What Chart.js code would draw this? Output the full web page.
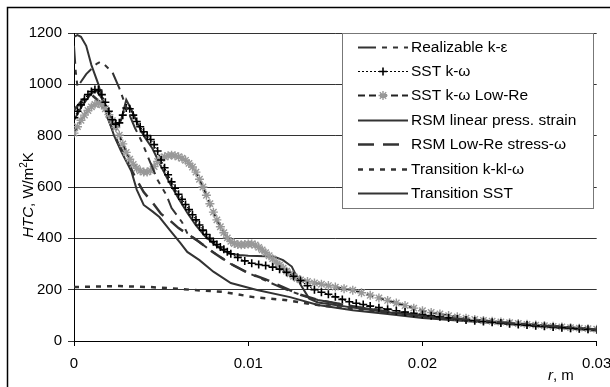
<!DOCTYPE html>
<html>
<head>
<meta charset="utf-8">
<script src="https://cdn.jsdelivr.net/npm/chart.js@4/dist/chart.umd.min.js"></script>
<style>
body{margin:0;background:#fff;overflow:hidden}
canvas{display:block}
</style>
</head>
<body>
<canvas id="htc" width="610" height="387"></canvas>
<script>
// r in m, HTC in W/m2K
var rReal   = [0,0.0001,0.0002,0.0004,0.0007,0.001,0.0013,0.0015,0.0017,0.002,0.0022,0.0026,0.003,0.0035,0.0039,0.0044,0.0048,0.0053,0.0056,0.0062,0.0065,0.007,0.0078,0.009,0.01,0.011,0.012,0.013,0.014,0.016,0.018,0.02,0.025,0.03];
var htcReal = [1150,1050,990,1010,1040,1060,1080,1087,1080,1060,1048,985,910,830,775,692,627,569,518,463,420,395,355,300,265,235,205,180,160,135,115,98,70,45];

var rSst   = [0,0.0002,0.0004,0.0006,0.0008,0.001,0.0012,0.0014,0.0016,0.0018,0.002,0.0022,0.0024,0.0026,0.0028,0.003,0.0032,0.0034,0.0036,0.0038,0.004,0.0042,0.0044,0.0046,0.0048,0.005,0.0052,0.0054,0.0056,0.0058,0.006,0.0062,0.0064,0.0066,0.0068,0.007,0.0072,0.0074,0.0076,0.0078,0.008,0.0082,0.0084,0.0086,0.0088,0.009,0.0094,0.0098,0.0102,0.0106,0.011,0.0114,0.0118,0.0122,0.0126,0.013,0.0134,0.0138,0.0142,0.0146,0.015,0.0154,0.0158,0.0162,0.0166,0.017,0.0175,0.018,0.0185,0.019,0.0195,0.02,0.0205,0.021,0.0215,0.022,0.0225,0.023,0.0235,0.024,0.0245,0.025,0.0255,0.026,0.0265,0.027,0.0275,0.028,0.0285,0.029,0.0295,0.03];
var htcSst = [870,895,920,942,960,972,980,978,960,930,895,862,845,850,880,908,905,880,855,835,815,800,785,765,740,705,675,648,620,595,572,552,532,512,492,472,452,432,415,400,387,376,366,357,348,340,326,312,303,298,294,288,280,268,252,236,215,200,190,182,172,162,153,147,142,136,130,124,118,113,108,103,98,94,90,86,82,79,76,73,70,67,64,62,59,57,55,52,50,48,46,44];

var rLowRe   = [0,0.0002,0.0004,0.0006,0.0008,0.001,0.0012,0.0014,0.0016,0.0018,0.002,0.0022,0.0024,0.0026,0.0028,0.003,0.0032,0.0034,0.0036,0.0038,0.004,0.0042,0.0044,0.0046,0.0048,0.005,0.0052,0.0054,0.0056,0.0058,0.006,0.0062,0.0064,0.0066,0.0068,0.007,0.0072,0.0074,0.0076,0.0078,0.008,0.0082,0.0084,0.0086,0.0088,0.009,0.0092,0.0094,0.0096,0.0098,0.01,0.0102,0.0104,0.0106,0.0108,0.011,0.0112,0.0114,0.0116,0.0118,0.012,0.0122,0.0124,0.0126,0.0128,0.013,0.0134,0.0138,0.0142,0.0146,0.015,0.0155,0.016,0.0165,0.017,0.0175,0.018,0.0185,0.019,0.0195,0.02,0.0205,0.021,0.0215,0.022,0.0225,0.023,0.0235,0.024,0.0245,0.025,0.0255,0.026,0.0265,0.027,0.0275,0.028,0.0285,0.029,0.0295,0.03];
var htcLowRe = [810,835,860,880,898,912,922,926,920,905,882,858,832,802,768,735,708,688,673,663,658,658,664,680,700,712,718,722,724,722,718,712,704,692,678,658,630,600,568,535,502,472,445,422,402,388,380,376,375,376,378,378,374,365,355,344,332,320,308,296,284,272,262,252,244,238,232,226,221,216,210,204,198,188,178,168,158,148,138,128,118,111,105,99,94,89,84,80,77,74,71,68,65,62,60,57,55,52,50,48,46];

var rRsmLin   = [0,0.0005,0.001,0.0013,0.0016,0.002,0.0024,0.0027,0.003,0.0033,0.0037,0.004,0.0045,0.005,0.0055,0.006,0.0065,0.007,0.0075,0.008,0.0085,0.009,0.0095,0.01,0.011,0.0115,0.012,0.0125,0.013,0.0135,0.014,0.015,0.016,0.018,0.02,0.022,0.025,0.03];
var htcRsmLin = [860,920,965,975,945,880,830,860,940,900,840,800,750,680,615,555,500,450,410,380,355,340,335,332,330,328,315,290,220,165,150,140,130,112,97,85,68,45];

var rRsmLow   = [0,0.0005,0.001,0.0015,0.002,0.0025,0.003,0.0035,0.004,0.0045,0.005,0.0055,0.006,0.007,0.008,0.009,0.01,0.011,0.012,0.013,0.014,0.016,0.018,0.02,0.025,0.03];
var htcRsmLow = [900,940,960,930,860,775,710,640,580,540,495,470,440,395,345,300,265,240,210,180,160,135,115,98,70,45];

var rKkl   = [0,0.001,0.0026,0.0044,0.0061,0.0068,0.0086,0.0103,0.0121,0.014,0.016,0.018,0.02,0.025,0.03];
var htcKkl = [210,212,214,210,203,199,191,171,160,140,125,110,95,68,45];

var rTrSst   = [0,0.0002,0.0004,0.0007,0.001,0.0014,0.0017,0.002,0.0023,0.0027,0.003,0.0033,0.0036,0.004,0.0045,0.0049,0.0055,0.0061,0.0065,0.0072,0.008,0.009,0.0105,0.0124,0.014,0.016,0.018,0.02,0.025,0.03];
var htcTrSst = [1185,1192,1185,1150,1075,1000,920,860,800,740,700,660,590,530,505,483,432,382,347,315,270,226,199,171,140,120,105,90,65,40];

var yTicks = [0,200,400,600,800,1000,1200];

function pts(r, h){ return r.map(function(x,i){ return {x:x, y:h[i]}; }); }

var FONT = '"Liberation Sans", Arial, sans-serif';

var datasets = [
  {label:'Realizable k-\u03b5', data:pts(rReal,htcReal), borderColor:'#333', borderWidth:2, borderDash:[18,6,5,6,5,6], pointRadius:0},
  {label:'SST k-\u03c9', data:pts(rSst,htcSst), borderColor:'#000', borderWidth:1, borderDash:[2,2], pointStyle:'cross', pointRadius:4, pointBorderWidth:1.6, pointBorderColor:'#000', pointBackgroundColor:'#000'},
  {label:'SST k-\u03c9 Low-Re', data:pts(rLowRe,htcLowRe), borderColor:'#222', borderWidth:2, borderDash:[7,4], pointStyle:'star', pointRadius:4.5, pointBorderWidth:1.4, pointBorderColor:'#999', pointBackgroundColor:'#999'},
  {label:'RSM linear press. strain', data:pts(rRsmLin,htcRsmLin), borderColor:'#333', borderWidth:2, pointRadius:0},
  {label:'RSM Low-Re stress-\u03c9', data:pts(rRsmLow,htcRsmLow), borderColor:'#333', borderWidth:2.5, borderDash:[16,9], pointRadius:0},
  {label:'Transition k-kl-\u03c9', data:pts(rKkl,htcKkl), borderColor:'#333', borderWidth:2.5, borderDash:[5,6], pointRadius:0},
  {label:'Transition SST', data:pts(rTrSst,htcTrSst), borderColor:'#333', borderWidth:2, pointRadius:0}
];

var frame = {
  id:'frame',
  beforeDraw:function(chart){
    var c = chart.ctx;
    c.save();
    c.fillStyle = '#fff';
    c.fillRect(0,0,chart.width,chart.height);
    c.strokeStyle = '#000';
    c.lineWidth = 1.5;
    c.beginPath();
    c.moveTo(7.5,chart.height); c.lineTo(7.5,7.5); c.lineTo(chart.width,7.5);
    c.stroke();
    c.restore();
  },
  afterDraw:function(chart){
    var c = chart.ctx;
    c.save();
    // legend box
    c.fillStyle = '#fff';
    c.fillRect(342,33,251,175);
    c.strokeStyle = '#777';
    c.lineWidth = 1;
    c.strokeRect(342.5,33.5,251,175);
    chart.data.datasets.forEach(function(ds,i){
      var y = Math.round(46.5 + 24.4*i) + 0.5;
      c.save();
      c.setLineDash(ds.borderDash || []);
      c.strokeStyle = ds.borderColor;
      c.lineWidth = ds.borderWidth;
      c.beginPath(); c.moveTo(358,y); c.lineTo(408,y); c.stroke();
      c.restore();
      if (ds.pointRadius > 0) {
        c.strokeStyle = ds.pointBorderColor;
        c.fillStyle = ds.pointBackgroundColor;
        c.lineWidth = ds.pointBorderWidth;
        Chart.helpers.drawPoint(c, {pointStyle:ds.pointStyle, radius:ds.pointRadius, borderWidth:ds.pointBorderWidth, rotation:0}, 383, y);
      }
      c.fillStyle = '#000';
      c.font = '15.5px ' + FONT;
      c.textBaseline = 'middle';
      c.textAlign = 'left';
      c.fillText(ds.label, 411, y);
    });
    // y title
    c.fillStyle = '#000';
    c.textBaseline = 'alphabetic';
    c.textAlign = 'left';
    var parts = [
      {t:'HTC', f:'italic 15px ' + FONT, dy:0},
      {t:', W/m', f:'15px ' + FONT, dy:0},
      {t:'2', f:'10px ' + FONT, dy:-6},
      {t:'K', f:'15px ' + FONT, dy:0}
    ];
    var total = 0;
    parts.forEach(function(p){ c.font = p.f; p.w = c.measureText(p.t).width; total += p.w; });
    c.save();
    c.translate(33,195);
    c.rotate(-Math.PI/2);
    var u = -total/2;
    parts.forEach(function(p){ c.font = p.f; c.fillText(p.t, u, p.dy); u += p.w; });
    c.restore();
    // x title
    c.font = 'italic 15px ' + FONT;
    c.fillText('r', 548, 380);
    var w = c.measureText('r').width;
    c.font = '15px ' + FONT;
    c.fillText(', m', 548 + w, 380);
    c.restore();
  }
};

var ctx = document.getElementById('htc').getContext('2d');
var htcChart = new Chart(ctx, {
  type:'line',
  data:{datasets:datasets},
  options:{
    responsive:false,
    animation:false,
    layout:{padding:{left:0, top:33, right:13.3, bottom:0}},
    elements:{line:{tension:0, fill:false}},
    plugins:{legend:{display:false}, tooltip:{enabled:false}},
    scales:{
      x:{
        type:'linear', min:0, max:0.03,
        ticks:{stepSize:0.01, padding:9, color:'#000', font:{family:FONT, size:15},
          callback:function(v){ return String(+v.toFixed(2)); }},
        grid:{drawOnChartArea:false, drawTicks:true, tickLength:5, color:'#000'},
        border:{color:'#000', width:1},
        afterFit:function(s){ s.height = 46; s.paddingRight = 0; s.paddingLeft = 0; }
      },
      y:{
        min:0, max:1200,
        afterBuildTicks:function(s){ s.ticks = yTicks.map(function(v){ return {value:v}; }); },
        ticks:{padding:6, color:'#000', font:{family:FONT, size:15},
          callback:function(v){ return String(v); }},
        grid:{color:'#333', tickLength:6, drawTicks:true},
        border:{color:'#000', width:1},
        afterFit:function(s){ s.width = 74; }
      }
    }
  },
  plugins:[frame]
});
</script>
</body>
</html>
